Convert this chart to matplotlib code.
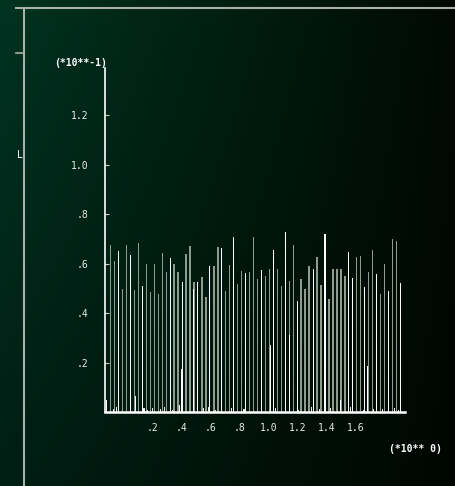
import numpy as np
import matplotlib.pyplot as plt
from matplotlib.lines import Line2D

# Line intensities per channel (units of 1e-1)
peak_values = [
    0.675, 0.61, 0.65, 0.497, 0.675, 0.634, 0.493, 0.683, 0.51, 0.60,
    0.485, 0.60, 0.477, 0.642, 0.566, 0.622, 0.598, 0.566,
    0.525, 0.638, 0.671, 0.525, 0.525, 0.545, 0.465, 0.59, 0.59, 0.667,
    0.663, 0.489, 0.594, 0.707, 0.517, 0.57, 0.562, 0.566, 0.707,
    0.537, 0.574, 0.55, 0.578, 0.655, 0.578, 0.51, 0.727, 0.53, 0.675,
    0.448, 0.537, 0.497, 0.59, 0.578, 0.626, 0.513, 0.719, 0.457,
    0.578, 0.578, 0.578, 0.55, 0.646, 0.541, 0.626, 0.63, 0.505, 0.566,
    0.655, 0.558, 0.477, 0.598, 0.489, 0.699, 0.691, 0.521,
]
# g = grey trace, w = white trace
peak_kinds = ("ggwggwggwggggggwgg"
              "wgggwggwggwggwggwgg"
              "gwggwggwggwgggwggwg"
              "ggggwwggwggwggwggw")

# weaker lines sitting between channels (channel offset, intensity)
minor_channels = [-1.1, 6.3, 17.3, 17.8, 20.9, 37.9, 40.2, 45.0, 57.9, 61.0, 64.8, 69.9]
minor_values = [0.048, 0.065, 0.03, 0.174, 0.497, 0.283, 0.27, 0.311, 0.048, 0.19, 0.186, 0.03]

# baseline noise
noise_channels = [0.6, 1.5, 8.4, 9.3, 10.6, 12.5, 13.5, 15.6, 23.5, 24.6, 26.4, 30.5,
                  33.6, 41.6, 47.4, 50.5, 52.6, 55.4, 60.4, 63.6, 66.3, 68.5, 71.4, 72.6]
noise_values = [0.012, 0.02, 0.015, 0.01, 0.018, 0.012, 0.02, 0.01, 0.015, 0.022, 0.01, 0.016,
                0.012, 0.018, 0.01, 0.02, 0.012, 0.016, 0.02, 0.01, 0.014, 0.012, 0.018, 0.01]

x_ticks = [0.2, 0.4, 0.6, 0.8, 1.0, 1.2, 1.4, 1.6]
x_tick_labels = ['.2', '.4', '.6', '.8', '1.0', '1.2', '1.4', '1.6']
y_ticks = [0.2, 0.4, 0.6, 0.8, 1.0, 1.2]
y_tick_labels = ['.2', '.4', '.6', '.8', '1.0', '1.2']

X0 = -0.089
STEP = 0.0274
W, H = 455, 486

fig = plt.figure(figsize=(W / 100, H / 100), dpi=100)

# dark green phosphor background
bg = fig.add_axes([0, 0, 1, 1])
bg.set_axis_off()
xs = np.linspace(0, 1, 256)
ys = np.linspace(0, 1, 256)
gx, gy = np.meshgrid(xs, ys)
fade = 1.0 - 0.4 * gy
r = (0.004 + 0.0 * gx) * fade
g = (0.20 - 0.16 * gx) * fade
b = (0.13 - 0.12 * gx) * fade
img = np.dstack([r, g, b]).clip(0, 1)
bg.imshow(img, aspect='auto', extent=[0, 1, 0, 1], origin='upper')
bg.set_xlim(0, 1)
bg.set_ylim(0, 1)

# outer frame lines
frame_col = '#a8b0a8'
fig.add_artist(Line2D([23.5 / W, 23.5 / W], [0, 1 - 8 / H], color=frame_col, lw=1.5))
fig.add_artist(Line2D([16 / W, 1], [1 - 8.5 / H, 1 - 8.5 / H], color=frame_col, lw=1.5))
fig.add_artist(Line2D([16 / W, 23.5 / W], [1 - 53 / H, 1 - 53 / H], color=frame_col, lw=1.2))
fig.text(17 / W, 1 - 155 / H, 'L', color='white', fontsize=7, family='DejaVu Sans Mono',
         ha='left', va='center')

left, right, top, bottom = 105, 405, 68, 412
ax = fig.add_axes([left / W, 1 - bottom / H, (right - left) / W, (bottom - top) / H])
ax.patch.set_alpha(0)

pos = X0 + STEP * np.arange(len(peak_values))
vals = np.array(peak_values)
kinds = np.array(list(peak_kinds))
grey = kinds == 'g'
ax.bar(pos[grey], vals[grey], width=0.0095, color='#8e9c8e', linewidth=0)
ax.bar(pos[~grey], vals[~grey], width=0.0072, color='#ffffff', linewidth=0)
ax.bar(X0 + STEP * np.array(minor_channels), minor_values, width=0.0072,
       color='#ffffff', linewidth=0)
ax.bar(X0 + STEP * np.array(noise_channels), noise_values, width=0.0072,
       color='#e8ece8', linewidth=0)

ax.set_xlim(-0.128, 1.943)
ax.set_ylim(0, 1.39)

for s in ['top', 'right']:
    ax.spines[s].set_visible(False)
ax.spines['left'].set_color('white')
ax.spines['left'].set_linewidth(1.2)
ax.spines['bottom'].set_color('white')
ax.spines['bottom'].set_linewidth(1.8)

mono = 'DejaVu Sans Mono'
ax.set_yticks(y_ticks)
ax.set_yticklabels(y_tick_labels, family=mono, fontsize=7, color='#e8ece8')
ax.tick_params(axis='y', direction='in', length=3, color='#c8d0c8', pad=12)
ax.set_xticks(x_ticks)
ax.set_xticklabels(x_tick_labels, family=mono, fontsize=7, color='#e8ece8')
ax.tick_params(axis='x', length=0, pad=8)

fig.text(81 / W, 1 - 63 / H, '(*10**-1)', color='white', fontsize=7, family=mono,
         fontweight='bold', ha='center', va='center')
fig.text(415 / W, 1 - 449 / H, '(*10** 0)', color='white', fontsize=7, family=mono,
         fontweight='bold', ha='center', va='center')

fig.savefig('out.png', dpi=100)
